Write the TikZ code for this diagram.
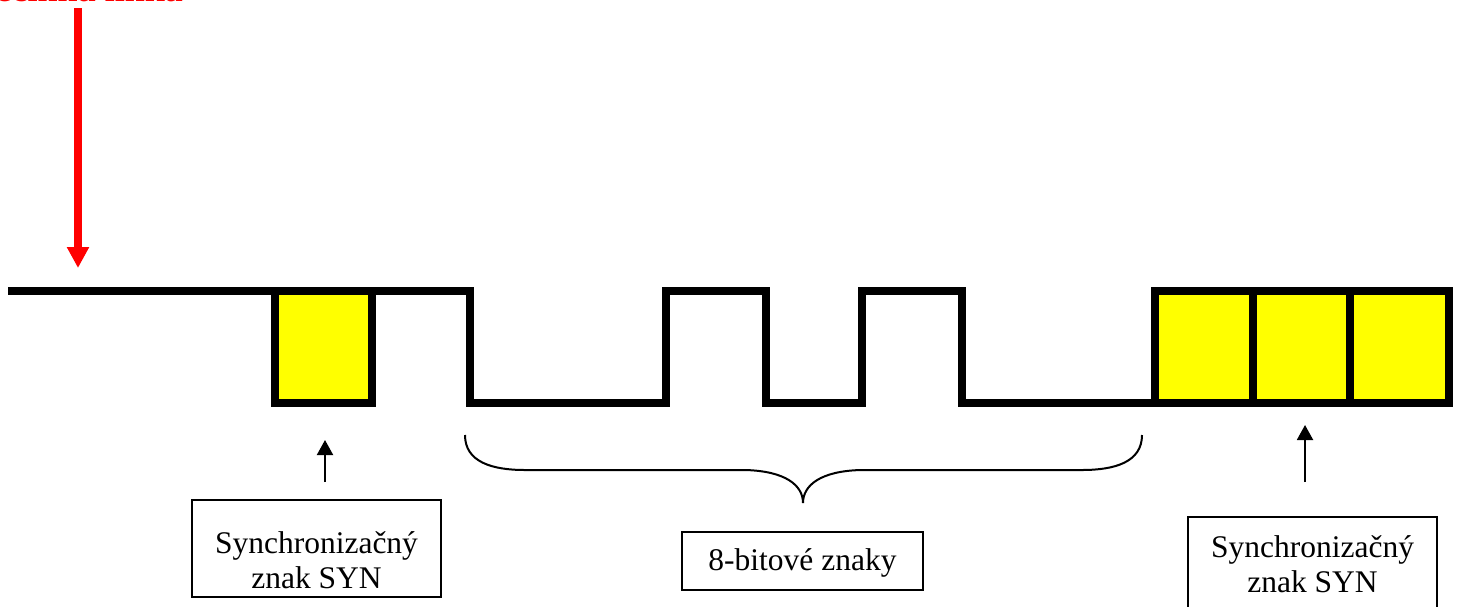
\documentclass[tikz,border=0pt]{standalone}
\usepackage{fontspec}
\setmainfont{Liberation Serif}
\usetikzlibrary{arrows.meta,calc}
\definecolor{synyellow}{RGB}{255,255,0}
\definecolor{idlered}{RGB}{255,0,0}
\begin{document}
\begin{tikzpicture}[x=1pt,y=-1pt,
  signal/.style={line width=8pt, line join=miter},
  synbit/.style={draw, line width=8pt, fill=synyellow, inner sep=0pt,
    minimum height=112pt},
  labelbox/.style={draw, line width=1.8pt, inner sep=0pt, align=center,
    anchor=base, font=\fontsize{31.5}{35}\selectfont},
  pointer/.style={line width=2pt, -{Triangle[length=15pt,width=16pt]}},
  brace/.style={line width=2pt}
]
\useasboundingbox (0,0) rectangle (1463,606);
\clip (0,0) rectangle (1463,606);

% idle line label and its arrow
\node (idle) [anchor=base east, text=idlered, inner sep=0pt,
  font=\bfseries\fontsize{36}{40}\selectfont] at (183,1) {Nečinná linka};
\coordinate (idletail) at (78,8);
\coordinate (idletip) at (78,268);
\draw[line width=8pt, idlered, -{Triangle[length=21pt,width=21pt]}]
  (idletail) -- (idletip);

% SYN characters
\node (syn1) [synbit, minimum width=97.5pt] at (323.25,347) {};
\node (syn2) [synbit, minimum width=97.5pt] at (1203.75,347) {};
\node (syn3) [synbit, minimum width=97.5pt] at (1301.25,347) {};
\node (syn4) [synbit, minimum width=99pt] at (1399.5,347) {};

% data waveform
\draw[signal] (8,291) -- (469.5,291) -- (469.5,403) -- (666,403)
  -- (666,291) -- (766,291) -- (766,403) -- (862,403) -- (862,291)
  -- (962,291) -- (962,403) -- (1155,403) -- (1155,291);

% brace under the data bits
\draw[brace] (465,435) .. controls (465,462) and (492,470) .. (525,470)
  -- (745,470) .. controls (785,471) and (803,485) .. (803,503)
  .. controls (803,485) and (821,471) .. (861,470)
  -- (1082,470) .. controls (1115,470) and (1142,462) .. (1142,435);

% captions, placed by the baseline of their last line
\node (cap1) [labelbox, minimum width=249pt, text height=88pt,
  text depth=9pt] at (316.5,588) {Synchronizačný\\znak SYN};
\node (cap2) [labelbox, minimum width=241pt, text height=38pt,
  text depth=20pt] at (802.5,570) {8-bitové znaky};
\node (cap3) [labelbox, minimum width=249pt, text height=75pt,
  text depth=22pt] at (1312.5,592) {Synchronizačný\\znak SYN};

% pointers to the SYN characters
\coordinate (tail1) at ($(cap1.north)+(8.5,-17)$);
\coordinate (tail3) at ($(cap3.north)+(-7.5,-34)$);
\coordinate (tip1) at (325,440);
\coordinate (tip3) at (1305,425);
\draw[pointer] (tail1) -- (tip1);
\draw[pointer] (tail3) -- (tip3);
\end{tikzpicture}
\end{document}
